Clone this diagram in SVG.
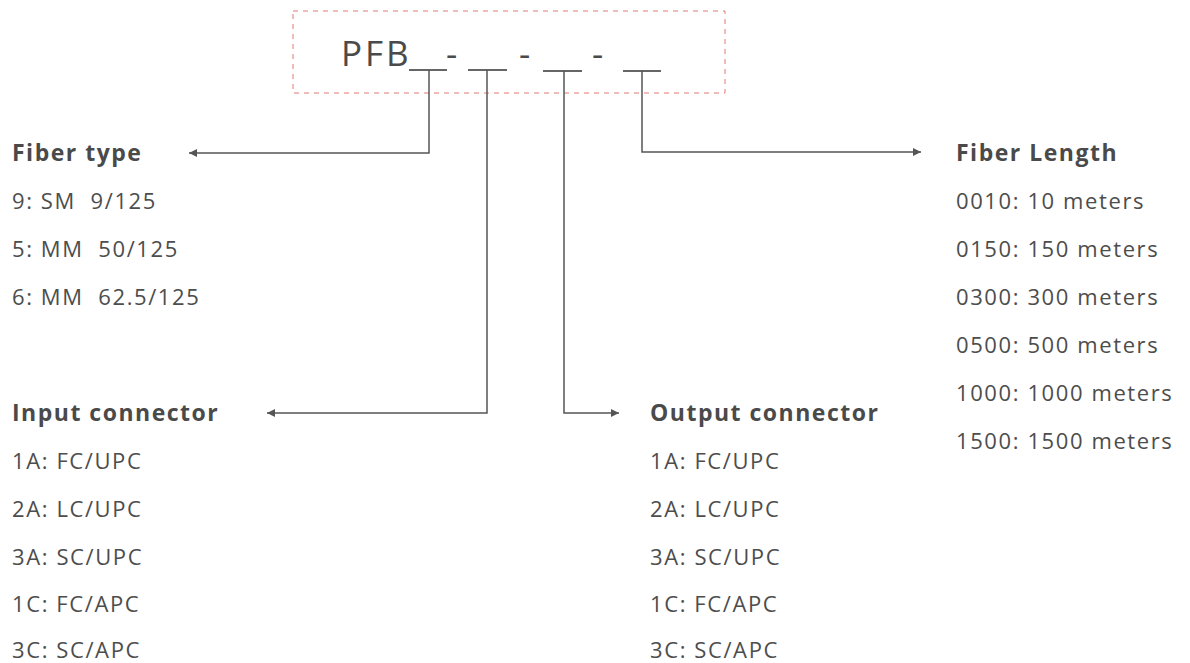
<svg xmlns="http://www.w3.org/2000/svg" width="1190" height="663" viewBox="0 0 1190 663">
<style>
.h{font-family:"Open Sans","Noto Sans",sans-serif;font-weight:700;font-size:23px;letter-spacing:1.5px;fill:#4a4a4a}
.t{font-family:"Open Sans","Noto Sans",sans-serif;font-size:22px;letter-spacing:1.6px;fill:#4d4d4d}
.code{font-family:"Open Sans","Noto Sans",sans-serif;font-size:35px;letter-spacing:3px;fill:#4a4a4a}
.ul{stroke:#666;stroke-width:2;fill:none}
.con{stroke:#555;stroke-width:1.5;fill:none}
</style>
<defs>
<marker id="arr" viewBox="0 0 10 10" refX="10" refY="5" markerWidth="8" markerHeight="8" markerUnits="userSpaceOnUse" orient="auto">
<path d="M0,0 L10,5 L0,10 Z" fill="#555"/>
</marker>
</defs>
<rect width="1190" height="663" fill="#fff"/>
<g id="code">
<rect x="293" y="11" width="432" height="82" fill="none" stroke="#e27a74" stroke-width="1" stroke-dasharray="5 5"/>
<text class="code" x="341" y="66">PFB</text>
<text class="code" x="446" y="66" letter-spacing="0">-</text>
<text class="code" x="519" y="66" letter-spacing="0">-</text>
<text class="code" x="592" y="66" letter-spacing="0">-</text>
<line class="ul" x1="409" y1="70" x2="447" y2="70"/>
<line class="ul" x1="468" y1="70" x2="507" y2="70"/>
<line class="ul" x1="543" y1="71" x2="582" y2="71"/>
<line class="ul" x1="623" y1="71" x2="661" y2="71"/>
</g>
<g id="connectors">
<path class="con" d="M429,70 V153 H189" marker-end="url(#arr)"/>
<path class="con" d="M487,70 V413 H267" marker-end="url(#arr)"/>
<path class="con" d="M564,71 V413 H619" marker-end="url(#arr)"/>
<path class="con" d="M642,71 V152 H921" marker-end="url(#arr)"/>
</g>
<g id="fiber-type">
<text class="h" x="12" y="161">Fiber type</text>
<text class="t" x="12" y="209" xml:space="preserve">9: SM  9/125</text>
<text class="t" x="12" y="257" xml:space="preserve">5: MM  50/125</text>
<text class="t" x="12" y="305" xml:space="preserve">6: MM  62.5/125</text>
</g>
<g id="input-connector">
<text class="h" x="12" y="421">Input connector</text>
<text class="t" x="12" y="469">1A: FC/UPC</text>
<text class="t" x="12" y="517">2A: LC/UPC</text>
<text class="t" x="12" y="565">3A: SC/UPC</text>
<text class="t" x="12" y="612">1C: FC/APC</text>
<text class="t" x="12" y="658">3C: SC/APC</text>
</g>
<g id="output-connector">
<text class="h" x="650" y="421">Output connector</text>
<text class="t" x="650" y="469">1A: FC/UPC</text>
<text class="t" x="650" y="517">2A: LC/UPC</text>
<text class="t" x="650" y="565">3A: SC/UPC</text>
<text class="t" x="650" y="612">1C: FC/APC</text>
<text class="t" x="650" y="658">3C: SC/APC</text>
</g>
<g id="fiber-length">
<text class="h" x="956" y="161">Fiber Length</text>
<text class="t" x="956" y="209">0010: 10 meters</text>
<text class="t" x="956" y="257">0150: 150 meters</text>
<text class="t" x="956" y="305">0300: 300 meters</text>
<text class="t" x="956" y="353">0500: 500 meters</text>
<text class="t" x="956" y="401">1000: 1000 meters</text>
<text class="t" x="956" y="449">1500: 1500 meters</text>
</g>
</svg>
